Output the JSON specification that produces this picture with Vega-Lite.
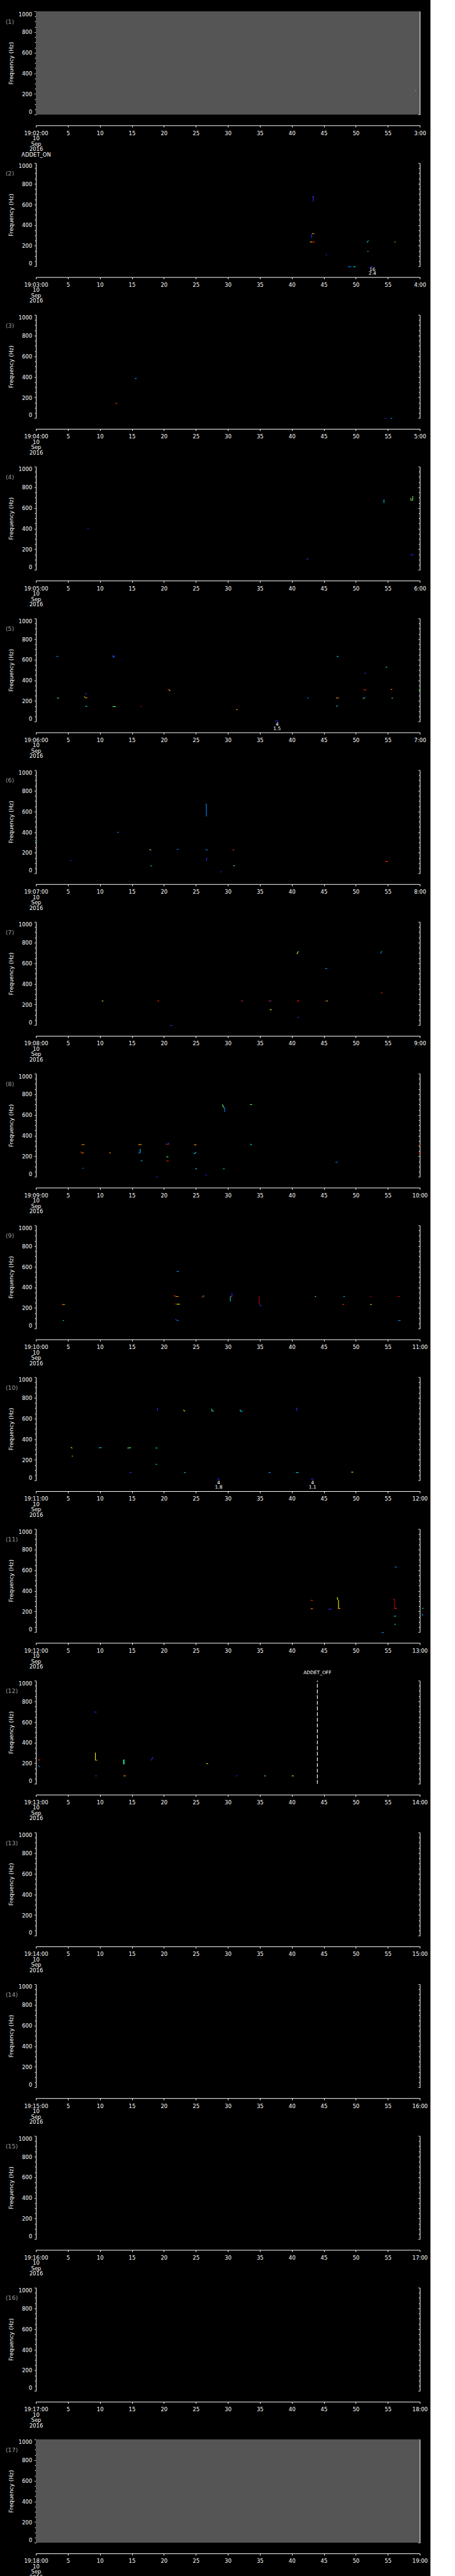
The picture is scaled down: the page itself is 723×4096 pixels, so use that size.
{"$schema":"https://vega.github.io/schema/vega-lite/v6.json","background":"#000000","padding":{"left":8,"top":17,"right":4,"bottom":2},"bounds":"flush","spacing":76.3,
"datasets":{
"one":[{}],
"m":[
{"p":1,"t0":179.3,"t1":179.45,"f0":233,"f1":233,"c":6},
{"p":2,"t0":223.35,"t1":223.35,"f0":628,"f1":675,"c":1},{"p":2,"t0":223.2,"t1":223.45,"f0":675,"f1":675,"c":1},{"p":2,"t0":223.1,"t1":223.1,"f0":274,"f1":317,"c":1},{"p":2,"t0":223.2,"t1":223.4,"f0":317,"f1":317,"c":5},{"p":2,"t0":223.4,"t1":223.6,"f0":317,"f1":317,"c":7},{"p":2,"t0":222.85,"t1":223.15,"f0":236,"f1":236,"c":5},{"p":2,"t0":223.15,"t1":223.6,"f0":236,"f1":236,"c":7},{"p":2,"t0":231.75,"t1":232.0,"f0":231,"f1":250,"c":3},{"p":2,"t0":231.8,"t1":232.0,"f0":146,"f1":146,"c":3},{"p":2,"t0":225.3,"t1":225.5,"f0":111,"f1":111,"c":1},{"p":2,"t0":236.05,"t1":236.2,"f0":236,"f1":236,"c":5},{"p":2,"t0":228.8,"t1":229.3,"f0":-3,"f1":-3,"c":2},{"p":2,"t0":229.6,"t1":230.0,"f0":-3,"f1":-3,"c":3},{"p":2,"t0":232.3,"t1":232.7,"f0":-3,"f1":-3,"c":1},
{"p":3,"t0":255.44,"t1":255.76,"f0":384,"f1":384,"c":2},{"p":3,"t0":252.45,"t1":252.7,"f0":144,"f1":144,"c":7},{"p":3,"t0":252.55,"t1":252.55,"f0":137,"f1":146,"c":7},{"p":3,"t0":294.6,"t1":294.8,"f0":-3,"f1":-3,"c":1},{"p":3,"t0":295.4,"t1":295.7,"f0":-3,"f1":-3,"c":2},
{"p":4,"t0":308.06,"t1":308.24,"f0":401,"f1":401,"c":1},{"p":4,"t0":342.3,"t1":342.6,"f0":106,"f1":106,"c":1},{"p":4,"t0":354.4,"t1":354.4,"f0":647,"f1":681,"c":3},{"p":4,"t0":358.9,"t1":358.9,"f0":672,"f1":713,"c":4},{"p":4,"t0":358.55,"t1":358.9,"f0":675,"f1":675,"c":4},{"p":4,"t0":358.6,"t1":358.6,"f0":682,"f1":695,"c":5},{"p":4,"t0":358.6,"t1":359.0,"f0":140,"f1":153,"c":1},
{"p":5,"t0":363.2,"t1":363.5,"f0":631,"f1":631,"c":2},{"p":5,"t0":363.3,"t1":363.6,"f0":228,"f1":228,"c":4},{"p":5,"t0":367.7,"t1":368.0,"f0":270,"f1":270,"c":1},{"p":5,"t0":367.55,"t1":367.7,"f0":243,"f1":236,"c":5},{"p":5,"t0":367.7,"t1":368.05,"f0":230,"f1":230,"c":6},{"p":5,"t0":367.7,"t1":368.05,"f0":149,"f1":149,"c":3},{"p":5,"t0":371.9,"t1":372.1,"f0":644,"f1":622,"c":1},{"p":5,"t0":372.1,"t1":372.3,"f0":622,"f1":638,"c":2},{"p":5,"t0":372.0,"t1":372.5,"f0":146,"f1":146,"c":4},{"p":5,"t0":376.35,"t1":376.6,"f0":147,"f1":147,"c":8},{"p":5,"t0":380.6,"t1":380.8,"f0":312,"f1":312,"c":7},{"p":5,"t0":380.8,"t1":381.0,"f0":308,"f1":298,"c":5},{"p":5,"t0":391.3,"t1":391.55,"f0":116,"f1":116,"c":6},{"p":5,"t0":397.4,"t1":397.85,"f0":8,"f1":8,"c":1},{"p":5,"t0":402.4,"t1":402.65,"f0":228,"f1":228,"c":2},{"p":5,"t0":407.0,"t1":407.3,"f0":631,"f1":631,"c":3},{"p":5,"t0":406.9,"t1":407.35,"f0":229,"f1":229,"c":6},{"p":5,"t0":406.9,"t1":407.2,"f0":151,"f1":151,"c":3},{"p":5,"t0":411.1,"t1":411.4,"f0":226,"f1":228,"c":4},{"p":5,"t0":411.4,"t1":411.6,"f0":237,"f1":237,"c":1},{"p":5,"t0":411.2,"t1":411.6,"f0":308,"f1":308,"c":7},{"p":5,"t0":411.35,"t1":411.6,"f0":465,"f1":472,"c":1},{"p":5,"t0":414.7,"t1":414.9,"f0":522,"f1":532,"c":3},{"p":5,"t0":415.45,"t1":415.7,"f0":312,"f1":312,"c":6},{"p":5,"t0":415.6,"t1":415.8,"f0":228,"f1":228,"c":4},{"p":5,"t0":419.85,"t1":420.1,"f0":308,"f1":317,"c":4},
{"p":6,"t0":419.9,"t1":420.1,"f0":318,"f1":318,"c":4},{"p":6,"t0":425.35,"t1":425.55,"f0":125,"f1":125,"c":1},{"p":6,"t0":432.7,"t1":432.95,"f0":398,"f1":398,"c":2},{"p":6,"t0":437.75,"t1":437.9,"f0":231,"f1":231,"c":5},{"p":6,"t0":437.9,"t1":438.05,"f0":225,"f1":225,"c":3},{"p":6,"t0":437.9,"t1":438.15,"f0":73,"f1":73,"c":3},{"p":6,"t0":442.05,"t1":442.3,"f0":233,"f1":233,"c":2},{"p":6,"t0":446.65,"t1":446.65,"f0":551,"f1":670,"c":2},{"p":6,"t0":446.5,"t1":446.65,"f0":670,"f1":670,"c":2},{"p":6,"t0":446.5,"t1":446.85,"f0":229,"f1":229,"c":2},{"p":6,"t0":446.7,"t1":446.7,"f0":123,"f1":151,"c":1},{"p":6,"t0":448.85,"t1":449.05,"f0":15,"f1":15,"c":1},{"p":6,"t0":450.75,"t1":451.0,"f0":227,"f1":227,"c":7},{"p":6,"t0":450.85,"t1":451.1,"f0":74,"f1":74,"c":4},{"p":6,"t0":474.6,"t1":475.05,"f0":117,"f1":117,"c":7},
{"p":7,"t0":490.3,"t1":490.55,"f0":234,"f1":234,"c":5},{"p":7,"t0":499.0,"t1":499.3,"f0":234,"f1":234,"c":7},{"p":7,"t0":500.95,"t1":501.3,"f0":-3,"f1":-3,"c":1},{"p":7,"t0":512.05,"t1":512.25,"f0":234,"f1":234,"c":7},{"p":7,"t0":512.25,"t1":512.4,"f0":234,"f1":234,"c":1},{"p":7,"t0":516.4,"t1":516.65,"f0":234,"f1":234,"c":7},{"p":7,"t0":516.65,"t1":516.85,"f0":234,"f1":234,"c":1},{"p":7,"t0":516.55,"t1":516.85,"f0":149,"f1":149,"c":5},{"p":7,"t0":520.8,"t1":520.95,"f0":688,"f1":710,"c":5},{"p":7,"t0":520.95,"t1":521.1,"f0":712,"f1":712,"c":3},{"p":7,"t0":520.8,"t1":521.15,"f0":234,"f1":234,"c":7},{"p":7,"t0":520.9,"t1":521.15,"f0":76,"f1":76,"c":1},{"p":7,"t0":525.2,"t1":525.55,"f0":548,"f1":548,"c":2},{"p":7,"t0":525.2,"t1":525.45,"f0":234,"f1":234,"c":7},{"p":7,"t0":525.45,"t1":525.65,"f0":234,"f1":234,"c":4},{"p":7,"t0":533.9,"t1":534.0,"f0":693,"f1":712,"c":2},{"p":7,"t0":534.0,"t1":534.1,"f0":712,"f1":712,"c":3},{"p":7,"t0":533.9,"t1":534.15,"f0":312,"f1":312,"c":7},
{"p":8,"t0":547.15,"t1":547.6,"f0":313,"f1":313,"c":6},{"p":8,"t0":547.05,"t1":547.05,"f0":236,"f1":246,"c":7},{"p":8,"t0":547.05,"t1":547.3,"f0":233,"f1":233,"c":7},{"p":8,"t0":547.3,"t1":547.45,"f0":233,"f1":233,"c":5},{"p":8,"t0":547.25,"t1":547.45,"f0":84,"f1":84,"c":2},{"p":8,"t0":551.45,"t1":551.7,"f0":233,"f1":233,"c":6},{"p":8,"t0":556.0,"t1":556.55,"f0":313,"f1":313,"c":6},{"p":8,"t0":556.3,"t1":556.3,"f0":233,"f1":270,"c":3},{"p":8,"t0":556.0,"t1":556.3,"f0":233,"f1":233,"c":2},{"p":8,"t0":556.4,"t1":556.65,"f0":156,"f1":156,"c":3},{"p":8,"t0":558.8,"t1":559.0,"f0":0,"f1":0,"c":1},{"p":8,"t0":560.3,"t1":560.6,"f0":317,"f1":317,"c":7},{"p":8,"t0":560.6,"t1":560.85,"f0":317,"f1":317,"c":1},{"p":8,"t0":560.75,"t1":560.75,"f0":313,"f1":331,"c":1},{"p":8,"t0":560.4,"t1":560.7,"f0":194,"f1":194,"c":4},{"p":8,"t0":560.4,"t1":560.75,"f0":155,"f1":155,"c":7},{"p":8,"t0":564.7,"t1":565.1,"f0":311,"f1":311,"c":6},{"p":8,"t0":564.7,"t1":565.05,"f0":223,"f1":238,"c":3},{"p":8,"t0":564.9,"t1":565.2,"f0":78,"f1":78,"c":3},{"p":8,"t0":566.5,"t1":566.75,"f0":19,"f1":19,"c":1},{"p":8,"t0":569.15,"t1":569.35,"f0":702,"f1":670,"c":4},{"p":8,"t0":569.35,"t1":569.5,"f0":670,"f1":670,"c":3},{"p":8,"t0":569.5,"t1":569.5,"f0":629,"f1":670,"c":2},{"p":8,"t0":569.25,"t1":569.5,"f0":78,"f1":78,"c":3},{"p":8,"t0":573.45,"t1":573.8,"f0":700,"f1":700,"c":4},{"p":8,"t0":573.5,"t1":573.75,"f0":320,"f1":307,"c":3},{"p":8,"t0":586.85,"t1":587.15,"f0":142,"f1":142,"c":2},{"p":8,"t0":599.8,"t1":600.1,"f0":305,"f1":305,"c":7},{"p":8,"t0":599.8,"t1":600.2,"f0":233,"f1":233,"c":7},
{"p":9,"t0":604.1,"t1":604.55,"f0":234,"f1":234,"c":6},{"p":9,"t0":604.2,"t1":604.4,"f0":80,"f1":80,"c":3},{"p":9,"t0":621.55,"t1":621.8,"f0":319,"f1":319,"c":7},{"p":9,"t0":621.8,"t1":622.3,"f0":313,"f1":310,"c":6},{"p":9,"t0":621.7,"t1":622.0,"f0":239,"f1":239,"c":8},{"p":9,"t0":622.0,"t1":622.5,"f0":237,"f1":237,"c":5},{"p":9,"t0":621.8,"t1":622.05,"f0":93,"f1":80,"c":1},{"p":9,"t0":622.05,"t1":622.3,"f0":80,"f1":80,"c":2},{"p":9,"t0":622.0,"t1":622.35,"f0":555,"f1":555,"c":2},{"p":9,"t0":625.9,"t1":626.1,"f0":306,"f1":306,"c":7},{"p":9,"t0":626.1,"t1":626.3,"f0":315,"f1":315,"c":4},{"p":9,"t0":630.4,"t1":630.4,"f0":265,"f1":315,"c":3},{"p":9,"t0":630.65,"t1":630.65,"f0":310,"f1":347,"c":1},{"p":9,"t0":630.45,"t1":630.65,"f0":310,"f1":310,"c":7},{"p":9,"t0":634.9,"t1":634.9,"f0":232,"f1":312,"c":8},{"p":9,"t0":635.0,"t1":635.25,"f0":232,"f1":219,"c":1},{"p":9,"t0":643.6,"t1":643.8,"f0":312,"f1":312,"c":4},{"p":9,"t0":647.9,"t1":648.2,"f0":234,"f1":234,"c":7},{"p":9,"t0":648.05,"t1":648.3,"f0":312,"f1":312,"c":3},{"p":9,"t0":652.2,"t1":652.5,"f0":312,"f1":312,"c":8},{"p":9,"t0":652.25,"t1":652.5,"f0":234,"f1":234,"c":5},{"p":9,"t0":656.5,"t1":656.95,"f0":312,"f1":312,"c":8},{"p":9,"t0":656.6,"t1":657.0,"f0":80,"f1":80,"c":2},
{"p":10,"t0":665.45,"t1":665.7,"f0":322,"f1":311,"c":5},{"p":10,"t0":665.6,"t1":665.8,"f0":236,"f1":236,"c":6},{"p":10,"t0":669.85,"t1":670.3,"f0":317,"f1":317,"c":3},{"p":10,"t0":674.3,"t1":674.85,"f0":313,"f1":317,"c":4},{"p":10,"t0":674.65,"t1":674.95,"f0":76,"f1":76,"c":1},{"p":10,"t0":678.7,"t1":679.0,"f0":314,"f1":314,"c":3},{"p":10,"t0":678.7,"t1":678.95,"f0":156,"f1":156,"c":3},{"p":10,"t0":679.0,"t1":679.0,"f0":672,"f1":702,"c":1},{"p":10,"t0":683.05,"t1":683.3,"f0":683,"f1":669,"c":5},{"p":10,"t0":683.15,"t1":683.4,"f0":76,"f1":76,"c":3},{"p":10,"t0":687.5,"t1":687.5,"f0":672,"f1":696,"c":3},{"p":10,"t0":687.5,"t1":687.8,"f0":672,"f1":672,"c":4},{"p":10,"t0":688.35,"t1":688.7,"f0":13,"f1":13,"c":1},{"p":10,"t0":691.95,"t1":691.95,"f0":669,"f1":687,"c":3},{"p":10,"t0":691.95,"t1":692.3,"f0":669,"f1":669,"c":3},{"p":10,"t0":696.35,"t1":696.7,"f0":76,"f1":76,"c":2},{"p":10,"t0":700.65,"t1":700.8,"f0":700,"f1":700,"c":1},{"p":10,"t0":700.8,"t1":700.8,"f0":672,"f1":700,"c":1},{"p":10,"t0":700.65,"t1":701.05,"f0":76,"f1":76,"c":3},{"p":10,"t0":703.0,"t1":703.45,"f0":13,"f1":13,"c":1},{"p":10,"t0":709.3,"t1":709.6,"f0":80,"f1":80,"c":5},
{"p":11,"t0":762.95,"t1":763.3,"f0":309,"f1":309,"c":7},{"p":11,"t0":762.95,"t1":763.3,"f0":227,"f1":227,"c":6},{"p":11,"t0":765.7,"t1":766.2,"f0":223,"f1":223,"c":1},{"p":11,"t0":767.1,"t1":767.2,"f0":339,"f1":311,"c":5},{"p":11,"t0":767.3,"t1":767.3,"f0":229,"f1":311,"c":5},{"p":11,"t0":767.2,"t1":767.6,"f0":229,"f1":229,"c":6},{"p":11,"t0":774.05,"t1":774.4,"f0":-3,"f1":-3,"c":2},{"p":11,"t0":775.85,"t1":776.05,"f0":317,"f1":317,"c":7},{"p":11,"t0":776.05,"t1":776.05,"f0":231,"f1":317,"c":8},{"p":11,"t0":776.05,"t1":776.4,"f0":231,"f1":231,"c":7},{"p":11,"t0":775.95,"t1":776.3,"f0":155,"f1":155,"c":3},{"p":11,"t0":776.0,"t1":776.25,"f0":76,"f1":76,"c":3},{"p":11,"t0":776.1,"t1":776.4,"f0":633,"f1":628,"c":2},{"p":11,"t0":780.35,"t1":780.6,"f0":231,"f1":231,"c":3},{"p":11,"t0":780.35,"t1":780.5,"f0":181,"f1":158,"c":2},
{"p":12,"t0":780.35,"t1":780.7,"f0":233,"f1":233,"c":7},{"p":12,"t0":780.35,"t1":780.6,"f0":179,"f1":164,"c":2},{"p":12,"t0":789.15,"t1":789.5,"f0":696,"f1":696,"c":1},{"p":12,"t0":789.3,"t1":789.3,"f0":229,"f1":304,"c":5},{"p":12,"t0":789.3,"t1":789.6,"f0":229,"f1":229,"c":6},{"p":12,"t0":789.25,"t1":789.55,"f0":78,"f1":78,"c":1},{"p":12,"t0":793.7,"t1":793.7,"f0":190,"f1":237,"c":4},{"p":12,"t0":793.8,"t1":793.8,"f0":190,"f1":237,"c":3},{"p":12,"t0":793.7,"t1":794.05,"f0":78,"f1":78,"c":6},{"p":12,"t0":798.0,"t1":798.35,"f0":227,"f1":259,"c":1},{"p":12,"t0":806.65,"t1":806.9,"f0":196,"f1":196,"c":5},{"p":12,"t0":811.25,"t1":811.5,"f0":78,"f1":78,"c":1},{"p":12,"t0":815.7,"t1":815.95,"f0":78,"f1":78,"c":4},{"p":12,"t0":820.0,"t1":820.3,"f0":78,"f1":78,"c":5}
],
"a":[
{"p":2,"t0":232.6,"f0":-30,"s":"16"},{"p":2,"t0":232.6,"f0":-71,"s":"2.4"},
{"p":5,"t0":397.7,"f0":-28,"s":"4"},{"p":5,"t0":397.7,"f0":-70,"s":"1.5"},
{"p":10,"t0":688.57,"f0":-27,"s":"4"},{"p":10,"t0":688.57,"f0":-69,"s":"1.8"},
{"p":10,"t0":703.24,"f0":-27,"s":"4"},{"p":10,"t0":703.24,"f0":-69,"s":"1.1"},
{"p":12,"t0":824,"f0":1075,"s":"ADDET_OFF"}
],
"e":[{"p":12,"t0":824,"f0":0,"f1":1000}]
},
"vconcat":[
{"width":610,"height":164.3,"resolve":{"axis":{"y":"independent"}},"layer":[
{"data":{"name":"one"},"mark":{"type":"rect","color":"#555555"},"encoding":{"x":{"datum":120},"x2":{"datum":180},"y":{"datum":0,"axis":null},"y2":{"datum":1000}}},
{"data":{"name":"m"},"transform":[{"filter":"datum.p == 1"}],"mark":{"type":"rule","strokeWidth":1.1,"clip":false},"encoding":{"x":{"field":"t0","type":"quantitative","scale":{"domain":[120,180],"nice":false,"zero":false},"axis":{"orient":"bottom","title":null,"labelExpr":"datum.index == 0 ? ['19:02:00', '10', 'Sep', '2016', 'ADDET_ON'] : (datum.index == 1 ? '3:00' : '' + (datum.value % 60))"}},"x2":{"field":"t1"},"y":{"field":"f0","type":"quantitative","scale":{"domain":[0,1000],"nice":false,"zero":false},"axis":{"orient":"left","values":[0,50,100,150,200,250,300,350,400,450,500,550,600,650,700,750,800,850,900,950,1000],"title":"Frequency (Hz)","labelExpr":"datum.value % 200 == 0 ? '' + datum.value : ''","tickDash":{"condition":{"test":"datum.value % 200 != 0","value":[1.9,20]},"value":[1,0]}}},"y2":{"field":"f1"},"color":{"field":"c","type":"ordinal","scale":{"domain":[1,2,3,4,5,6,7,8],"range":["#2d2dff","#0a8cff","#00d2e6","#5aff64","#f0f000","#ff9600","#ff2800","#b40000"]},"legend":null}}},
{"data":{"name":"one"},"mark":{"type":"text","color":"#9c9c9c","fontSize":9.5,"align":"left"},"encoding":{"x":{"datum":115.27},"y":{"datum":897,"axis":null},"text":{"value":"(1)"}}},
{"data":{"name":"one"},"mark":{"type":"point","opacity":0},"encoding":{"y":{"datum":500,"type":"quantitative","axis":{"orient":"right","values":[0,50,100,150,200,250,300,350,400,450,500,550,600,650,700,750,800,850,900,950,1000],"labels":false,"title":null,"tickSize":-2.8,"tickDash":{"condition":{"test":"datum.value % 200 != 0","value":[1.9,20]},"value":[1,0]}}}}}
]},
{"width":610,"height":164.3,"resolve":{"axis":{"y":"independent"}},"layer":[
{"data":{"name":"m"},"transform":[{"filter":"datum.p == 2"}],"mark":{"type":"rule","strokeWidth":1.1,"clip":false},"encoding":{"x":{"field":"t0","type":"quantitative","scale":{"domain":[180,240],"nice":false,"zero":false},"axis":{"orient":"bottom","title":null,"labelExpr":"datum.index == 0 ? ['19:' + (floor(datum.value / 60) < 10 ? '0' : '') + floor(datum.value / 60) + ':00', '10', 'Sep', '2016'] : (datum.index == 1 ? floor(datum.value / 60) + ':00' : '' + (datum.value % 60))"}},"x2":{"field":"t1"},"y":{"field":"f0","type":"quantitative","scale":{"domain":[0,1000],"nice":false,"zero":false},"axis":{"orient":"left","values":[0,50,100,150,200,250,300,350,400,450,500,550,600,650,700,750,800,850,900,950,1000],"title":"Frequency (Hz)","labelExpr":"datum.value % 200 == 0 ? '' + datum.value : ''","tickDash":{"condition":{"test":"datum.value % 200 != 0","value":[1.9,20]},"value":[1,0]}}},"y2":{"field":"f1"},"color":{"field":"c","type":"ordinal","scale":{"domain":[1,2,3,4,5,6,7,8],"range":["#2d2dff","#0a8cff","#00d2e6","#5aff64","#f0f000","#ff9600","#ff2800","#b40000"]},"legend":null}}},
{"data":{"name":"a"},"transform":[{"filter":"datum.p == 2"}],"mark":{"type":"text","color":"#ffffff","fontSize":7.5},"encoding":{"x":{"field":"t0","type":"quantitative"},"y":{"field":"f0","type":"quantitative","axis":null},"text":{"field":"s"}}},
{"data":{"name":"one"},"mark":{"type":"text","color":"#9c9c9c","fontSize":9.5,"align":"left"},"encoding":{"x":{"datum":175.27},"y":{"datum":897,"axis":null},"text":{"value":"(2)"}}},
{"data":{"name":"one"},"mark":{"type":"point","opacity":0},"encoding":{"y":{"datum":500,"type":"quantitative","axis":{"orient":"right","values":[0,50,100,150,200,250,300,350,400,450,500,550,600,650,700,750,800,850,900,950,1000],"labels":false,"title":null,"tickSize":-2.8,"tickDash":{"condition":{"test":"datum.value % 200 != 0","value":[1.9,20]},"value":[1,0]}}}}}
]},
{"width":610,"height":164.3,"resolve":{"axis":{"y":"independent"}},"layer":[
{"data":{"name":"m"},"transform":[{"filter":"datum.p == 3"}],"mark":{"type":"rule","strokeWidth":1.1,"clip":false},"encoding":{"x":{"field":"t0","type":"quantitative","scale":{"domain":[240,300],"nice":false,"zero":false},"axis":{"orient":"bottom","title":null,"labelExpr":"datum.index == 0 ? ['19:' + (floor(datum.value / 60) < 10 ? '0' : '') + floor(datum.value / 60) + ':00', '10', 'Sep', '2016'] : (datum.index == 1 ? floor(datum.value / 60) + ':00' : '' + (datum.value % 60))"}},"x2":{"field":"t1"},"y":{"field":"f0","type":"quantitative","scale":{"domain":[0,1000],"nice":false,"zero":false},"axis":{"orient":"left","values":[0,50,100,150,200,250,300,350,400,450,500,550,600,650,700,750,800,850,900,950,1000],"title":"Frequency (Hz)","labelExpr":"datum.value % 200 == 0 ? '' + datum.value : ''","tickDash":{"condition":{"test":"datum.value % 200 != 0","value":[1.9,20]},"value":[1,0]}}},"y2":{"field":"f1"},"color":{"field":"c","type":"ordinal","scale":{"domain":[1,2,3,4,5,6,7,8],"range":["#2d2dff","#0a8cff","#00d2e6","#5aff64","#f0f000","#ff9600","#ff2800","#b40000"]},"legend":null}}},
{"data":{"name":"one"},"mark":{"type":"text","color":"#9c9c9c","fontSize":9.5,"align":"left"},"encoding":{"x":{"datum":235.27},"y":{"datum":897,"axis":null},"text":{"value":"(3)"}}},
{"data":{"name":"one"},"mark":{"type":"point","opacity":0},"encoding":{"y":{"datum":500,"type":"quantitative","axis":{"orient":"right","values":[0,50,100,150,200,250,300,350,400,450,500,550,600,650,700,750,800,850,900,950,1000],"labels":false,"title":null,"tickSize":-2.8,"tickDash":{"condition":{"test":"datum.value % 200 != 0","value":[1.9,20]},"value":[1,0]}}}}}
]},
{"width":610,"height":164.3,"resolve":{"axis":{"y":"independent"}},"layer":[
{"data":{"name":"m"},"transform":[{"filter":"datum.p == 4"}],"mark":{"type":"rule","strokeWidth":1.1,"clip":false},"encoding":{"x":{"field":"t0","type":"quantitative","scale":{"domain":[300,360],"nice":false,"zero":false},"axis":{"orient":"bottom","title":null,"labelExpr":"datum.index == 0 ? ['19:' + (floor(datum.value / 60) < 10 ? '0' : '') + floor(datum.value / 60) + ':00', '10', 'Sep', '2016'] : (datum.index == 1 ? floor(datum.value / 60) + ':00' : '' + (datum.value % 60))"}},"x2":{"field":"t1"},"y":{"field":"f0","type":"quantitative","scale":{"domain":[0,1000],"nice":false,"zero":false},"axis":{"orient":"left","values":[0,50,100,150,200,250,300,350,400,450,500,550,600,650,700,750,800,850,900,950,1000],"title":"Frequency (Hz)","labelExpr":"datum.value % 200 == 0 ? '' + datum.value : ''","tickDash":{"condition":{"test":"datum.value % 200 != 0","value":[1.9,20]},"value":[1,0]}}},"y2":{"field":"f1"},"color":{"field":"c","type":"ordinal","scale":{"domain":[1,2,3,4,5,6,7,8],"range":["#2d2dff","#0a8cff","#00d2e6","#5aff64","#f0f000","#ff9600","#ff2800","#b40000"]},"legend":null}}},
{"data":{"name":"one"},"mark":{"type":"text","color":"#9c9c9c","fontSize":9.5,"align":"left"},"encoding":{"x":{"datum":295.27},"y":{"datum":897,"axis":null},"text":{"value":"(4)"}}},
{"data":{"name":"one"},"mark":{"type":"point","opacity":0},"encoding":{"y":{"datum":500,"type":"quantitative","axis":{"orient":"right","values":[0,50,100,150,200,250,300,350,400,450,500,550,600,650,700,750,800,850,900,950,1000],"labels":false,"title":null,"tickSize":-2.8,"tickDash":{"condition":{"test":"datum.value % 200 != 0","value":[1.9,20]},"value":[1,0]}}}}}
]},
{"width":610,"height":164.3,"resolve":{"axis":{"y":"independent"}},"layer":[
{"data":{"name":"m"},"transform":[{"filter":"datum.p == 5"}],"mark":{"type":"rule","strokeWidth":1.1,"clip":false},"encoding":{"x":{"field":"t0","type":"quantitative","scale":{"domain":[360,420],"nice":false,"zero":false},"axis":{"orient":"bottom","title":null,"labelExpr":"datum.index == 0 ? ['19:' + (floor(datum.value / 60) < 10 ? '0' : '') + floor(datum.value / 60) + ':00', '10', 'Sep', '2016'] : (datum.index == 1 ? floor(datum.value / 60) + ':00' : '' + (datum.value % 60))"}},"x2":{"field":"t1"},"y":{"field":"f0","type":"quantitative","scale":{"domain":[0,1000],"nice":false,"zero":false},"axis":{"orient":"left","values":[0,50,100,150,200,250,300,350,400,450,500,550,600,650,700,750,800,850,900,950,1000],"title":"Frequency (Hz)","labelExpr":"datum.value % 200 == 0 ? '' + datum.value : ''","tickDash":{"condition":{"test":"datum.value % 200 != 0","value":[1.9,20]},"value":[1,0]}}},"y2":{"field":"f1"},"color":{"field":"c","type":"ordinal","scale":{"domain":[1,2,3,4,5,6,7,8],"range":["#2d2dff","#0a8cff","#00d2e6","#5aff64","#f0f000","#ff9600","#ff2800","#b40000"]},"legend":null}}},
{"data":{"name":"a"},"transform":[{"filter":"datum.p == 5"}],"mark":{"type":"text","color":"#ffffff","fontSize":7.5},"encoding":{"x":{"field":"t0","type":"quantitative"},"y":{"field":"f0","type":"quantitative","axis":null},"text":{"field":"s"}}},
{"data":{"name":"one"},"mark":{"type":"text","color":"#9c9c9c","fontSize":9.5,"align":"left"},"encoding":{"x":{"datum":355.27},"y":{"datum":897,"axis":null},"text":{"value":"(5)"}}},
{"data":{"name":"one"},"mark":{"type":"point","opacity":0},"encoding":{"y":{"datum":500,"type":"quantitative","axis":{"orient":"right","values":[0,50,100,150,200,250,300,350,400,450,500,550,600,650,700,750,800,850,900,950,1000],"labels":false,"title":null,"tickSize":-2.8,"tickDash":{"condition":{"test":"datum.value % 200 != 0","value":[1.9,20]},"value":[1,0]}}}}}
]},
{"width":610,"height":164.3,"resolve":{"axis":{"y":"independent"}},"layer":[
{"data":{"name":"m"},"transform":[{"filter":"datum.p == 6"}],"mark":{"type":"rule","strokeWidth":1.1,"clip":false},"encoding":{"x":{"field":"t0","type":"quantitative","scale":{"domain":[420,480],"nice":false,"zero":false},"axis":{"orient":"bottom","title":null,"labelExpr":"datum.index == 0 ? ['19:' + (floor(datum.value / 60) < 10 ? '0' : '') + floor(datum.value / 60) + ':00', '10', 'Sep', '2016'] : (datum.index == 1 ? floor(datum.value / 60) + ':00' : '' + (datum.value % 60))"}},"x2":{"field":"t1"},"y":{"field":"f0","type":"quantitative","scale":{"domain":[0,1000],"nice":false,"zero":false},"axis":{"orient":"left","values":[0,50,100,150,200,250,300,350,400,450,500,550,600,650,700,750,800,850,900,950,1000],"title":"Frequency (Hz)","labelExpr":"datum.value % 200 == 0 ? '' + datum.value : ''","tickDash":{"condition":{"test":"datum.value % 200 != 0","value":[1.9,20]},"value":[1,0]}}},"y2":{"field":"f1"},"color":{"field":"c","type":"ordinal","scale":{"domain":[1,2,3,4,5,6,7,8],"range":["#2d2dff","#0a8cff","#00d2e6","#5aff64","#f0f000","#ff9600","#ff2800","#b40000"]},"legend":null}}},
{"data":{"name":"one"},"mark":{"type":"text","color":"#9c9c9c","fontSize":9.5,"align":"left"},"encoding":{"x":{"datum":415.27},"y":{"datum":897,"axis":null},"text":{"value":"(6)"}}},
{"data":{"name":"one"},"mark":{"type":"point","opacity":0},"encoding":{"y":{"datum":500,"type":"quantitative","axis":{"orient":"right","values":[0,50,100,150,200,250,300,350,400,450,500,550,600,650,700,750,800,850,900,950,1000],"labels":false,"title":null,"tickSize":-2.8,"tickDash":{"condition":{"test":"datum.value % 200 != 0","value":[1.9,20]},"value":[1,0]}}}}}
]},
{"width":610,"height":164.3,"resolve":{"axis":{"y":"independent"}},"layer":[
{"data":{"name":"m"},"transform":[{"filter":"datum.p == 7"}],"mark":{"type":"rule","strokeWidth":1.1,"clip":false},"encoding":{"x":{"field":"t0","type":"quantitative","scale":{"domain":[480,540],"nice":false,"zero":false},"axis":{"orient":"bottom","title":null,"labelExpr":"datum.index == 0 ? ['19:' + (floor(datum.value / 60) < 10 ? '0' : '') + floor(datum.value / 60) + ':00', '10', 'Sep', '2016'] : (datum.index == 1 ? floor(datum.value / 60) + ':00' : '' + (datum.value % 60))"}},"x2":{"field":"t1"},"y":{"field":"f0","type":"quantitative","scale":{"domain":[0,1000],"nice":false,"zero":false},"axis":{"orient":"left","values":[0,50,100,150,200,250,300,350,400,450,500,550,600,650,700,750,800,850,900,950,1000],"title":"Frequency (Hz)","labelExpr":"datum.value % 200 == 0 ? '' + datum.value : ''","tickDash":{"condition":{"test":"datum.value % 200 != 0","value":[1.9,20]},"value":[1,0]}}},"y2":{"field":"f1"},"color":{"field":"c","type":"ordinal","scale":{"domain":[1,2,3,4,5,6,7,8],"range":["#2d2dff","#0a8cff","#00d2e6","#5aff64","#f0f000","#ff9600","#ff2800","#b40000"]},"legend":null}}},
{"data":{"name":"one"},"mark":{"type":"text","color":"#9c9c9c","fontSize":9.5,"align":"left"},"encoding":{"x":{"datum":475.27},"y":{"datum":897,"axis":null},"text":{"value":"(7)"}}},
{"data":{"name":"one"},"mark":{"type":"point","opacity":0},"encoding":{"y":{"datum":500,"type":"quantitative","axis":{"orient":"right","values":[0,50,100,150,200,250,300,350,400,450,500,550,600,650,700,750,800,850,900,950,1000],"labels":false,"title":null,"tickSize":-2.8,"tickDash":{"condition":{"test":"datum.value % 200 != 0","value":[1.9,20]},"value":[1,0]}}}}}
]},
{"width":610,"height":164.3,"resolve":{"axis":{"y":"independent"}},"layer":[
{"data":{"name":"m"},"transform":[{"filter":"datum.p == 8"}],"mark":{"type":"rule","strokeWidth":1.1,"clip":false},"encoding":{"x":{"field":"t0","type":"quantitative","scale":{"domain":[540,600],"nice":false,"zero":false},"axis":{"orient":"bottom","title":null,"labelExpr":"datum.index == 0 ? ['19:' + (floor(datum.value / 60) < 10 ? '0' : '') + floor(datum.value / 60) + ':00', '10', 'Sep', '2016'] : (datum.index == 1 ? floor(datum.value / 60) + ':00' : '' + (datum.value % 60))"}},"x2":{"field":"t1"},"y":{"field":"f0","type":"quantitative","scale":{"domain":[0,1000],"nice":false,"zero":false},"axis":{"orient":"left","values":[0,50,100,150,200,250,300,350,400,450,500,550,600,650,700,750,800,850,900,950,1000],"title":"Frequency (Hz)","labelExpr":"datum.value % 200 == 0 ? '' + datum.value : ''","tickDash":{"condition":{"test":"datum.value % 200 != 0","value":[1.9,20]},"value":[1,0]}}},"y2":{"field":"f1"},"color":{"field":"c","type":"ordinal","scale":{"domain":[1,2,3,4,5,6,7,8],"range":["#2d2dff","#0a8cff","#00d2e6","#5aff64","#f0f000","#ff9600","#ff2800","#b40000"]},"legend":null}}},
{"data":{"name":"one"},"mark":{"type":"text","color":"#9c9c9c","fontSize":9.5,"align":"left"},"encoding":{"x":{"datum":535.27},"y":{"datum":897,"axis":null},"text":{"value":"(8)"}}},
{"data":{"name":"one"},"mark":{"type":"point","opacity":0},"encoding":{"y":{"datum":500,"type":"quantitative","axis":{"orient":"right","values":[0,50,100,150,200,250,300,350,400,450,500,550,600,650,700,750,800,850,900,950,1000],"labels":false,"title":null,"tickSize":-2.8,"tickDash":{"condition":{"test":"datum.value % 200 != 0","value":[1.9,20]},"value":[1,0]}}}}}
]},
{"width":610,"height":164.3,"resolve":{"axis":{"y":"independent"}},"layer":[
{"data":{"name":"m"},"transform":[{"filter":"datum.p == 9"}],"mark":{"type":"rule","strokeWidth":1.1,"clip":false},"encoding":{"x":{"field":"t0","type":"quantitative","scale":{"domain":[600,660],"nice":false,"zero":false},"axis":{"orient":"bottom","title":null,"labelExpr":"datum.index == 0 ? ['19:' + (floor(datum.value / 60) < 10 ? '0' : '') + floor(datum.value / 60) + ':00', '10', 'Sep', '2016'] : (datum.index == 1 ? floor(datum.value / 60) + ':00' : '' + (datum.value % 60))"}},"x2":{"field":"t1"},"y":{"field":"f0","type":"quantitative","scale":{"domain":[0,1000],"nice":false,"zero":false},"axis":{"orient":"left","values":[0,50,100,150,200,250,300,350,400,450,500,550,600,650,700,750,800,850,900,950,1000],"title":"Frequency (Hz)","labelExpr":"datum.value % 200 == 0 ? '' + datum.value : ''","tickDash":{"condition":{"test":"datum.value % 200 != 0","value":[1.9,20]},"value":[1,0]}}},"y2":{"field":"f1"},"color":{"field":"c","type":"ordinal","scale":{"domain":[1,2,3,4,5,6,7,8],"range":["#2d2dff","#0a8cff","#00d2e6","#5aff64","#f0f000","#ff9600","#ff2800","#b40000"]},"legend":null}}},
{"data":{"name":"one"},"mark":{"type":"text","color":"#9c9c9c","fontSize":9.5,"align":"left"},"encoding":{"x":{"datum":595.27},"y":{"datum":897,"axis":null},"text":{"value":"(9)"}}},
{"data":{"name":"one"},"mark":{"type":"point","opacity":0},"encoding":{"y":{"datum":500,"type":"quantitative","axis":{"orient":"right","values":[0,50,100,150,200,250,300,350,400,450,500,550,600,650,700,750,800,850,900,950,1000],"labels":false,"title":null,"tickSize":-2.8,"tickDash":{"condition":{"test":"datum.value % 200 != 0","value":[1.9,20]},"value":[1,0]}}}}}
]},
{"width":610,"height":164.3,"resolve":{"axis":{"y":"independent"}},"layer":[
{"data":{"name":"m"},"transform":[{"filter":"datum.p == 10"}],"mark":{"type":"rule","strokeWidth":1.1,"clip":false},"encoding":{"x":{"field":"t0","type":"quantitative","scale":{"domain":[660,720],"nice":false,"zero":false},"axis":{"orient":"bottom","title":null,"labelExpr":"datum.index == 0 ? ['19:' + (floor(datum.value / 60) < 10 ? '0' : '') + floor(datum.value / 60) + ':00', '10', 'Sep', '2016'] : (datum.index == 1 ? floor(datum.value / 60) + ':00' : '' + (datum.value % 60))"}},"x2":{"field":"t1"},"y":{"field":"f0","type":"quantitative","scale":{"domain":[0,1000],"nice":false,"zero":false},"axis":{"orient":"left","values":[0,50,100,150,200,250,300,350,400,450,500,550,600,650,700,750,800,850,900,950,1000],"title":"Frequency (Hz)","labelExpr":"datum.value % 200 == 0 ? '' + datum.value : ''","tickDash":{"condition":{"test":"datum.value % 200 != 0","value":[1.9,20]},"value":[1,0]}}},"y2":{"field":"f1"},"color":{"field":"c","type":"ordinal","scale":{"domain":[1,2,3,4,5,6,7,8],"range":["#2d2dff","#0a8cff","#00d2e6","#5aff64","#f0f000","#ff9600","#ff2800","#b40000"]},"legend":null}}},
{"data":{"name":"a"},"transform":[{"filter":"datum.p == 10"}],"mark":{"type":"text","color":"#ffffff","fontSize":7.5},"encoding":{"x":{"field":"t0","type":"quantitative"},"y":{"field":"f0","type":"quantitative","axis":null},"text":{"field":"s"}}},
{"data":{"name":"one"},"mark":{"type":"text","color":"#9c9c9c","fontSize":9.5,"align":"left"},"encoding":{"x":{"datum":655.27},"y":{"datum":897,"axis":null},"text":{"value":"(10)"}}},
{"data":{"name":"one"},"mark":{"type":"point","opacity":0},"encoding":{"y":{"datum":500,"type":"quantitative","axis":{"orient":"right","values":[0,50,100,150,200,250,300,350,400,450,500,550,600,650,700,750,800,850,900,950,1000],"labels":false,"title":null,"tickSize":-2.8,"tickDash":{"condition":{"test":"datum.value % 200 != 0","value":[1.9,20]},"value":[1,0]}}}}}
]},
{"width":610,"height":164.3,"resolve":{"axis":{"y":"independent"}},"layer":[
{"data":{"name":"m"},"transform":[{"filter":"datum.p == 11"}],"mark":{"type":"rule","strokeWidth":1.1,"clip":false},"encoding":{"x":{"field":"t0","type":"quantitative","scale":{"domain":[720,780],"nice":false,"zero":false},"axis":{"orient":"bottom","title":null,"labelExpr":"datum.index == 0 ? ['19:' + (floor(datum.value / 60) < 10 ? '0' : '') + floor(datum.value / 60) + ':00', '10', 'Sep', '2016'] : (datum.index == 1 ? floor(datum.value / 60) + ':00' : '' + (datum.value % 60))"}},"x2":{"field":"t1"},"y":{"field":"f0","type":"quantitative","scale":{"domain":[0,1000],"nice":false,"zero":false},"axis":{"orient":"left","values":[0,50,100,150,200,250,300,350,400,450,500,550,600,650,700,750,800,850,900,950,1000],"title":"Frequency (Hz)","labelExpr":"datum.value % 200 == 0 ? '' + datum.value : ''","tickDash":{"condition":{"test":"datum.value % 200 != 0","value":[1.9,20]},"value":[1,0]}}},"y2":{"field":"f1"},"color":{"field":"c","type":"ordinal","scale":{"domain":[1,2,3,4,5,6,7,8],"range":["#2d2dff","#0a8cff","#00d2e6","#5aff64","#f0f000","#ff9600","#ff2800","#b40000"]},"legend":null}}},
{"data":{"name":"one"},"mark":{"type":"text","color":"#9c9c9c","fontSize":9.5,"align":"left"},"encoding":{"x":{"datum":715.27},"y":{"datum":897,"axis":null},"text":{"value":"(11)"}}},
{"data":{"name":"one"},"mark":{"type":"point","opacity":0},"encoding":{"y":{"datum":500,"type":"quantitative","axis":{"orient":"right","values":[0,50,100,150,200,250,300,350,400,450,500,550,600,650,700,750,800,850,900,950,1000],"labels":false,"title":null,"tickSize":-2.8,"tickDash":{"condition":{"test":"datum.value % 200 != 0","value":[1.9,20]},"value":[1,0]}}}}}
]},
{"width":610,"height":164.3,"resolve":{"axis":{"y":"independent"}},"layer":[
{"data":{"name":"m"},"transform":[{"filter":"datum.p == 12"}],"mark":{"type":"rule","strokeWidth":1.1,"clip":false},"encoding":{"x":{"field":"t0","type":"quantitative","scale":{"domain":[780,840],"nice":false,"zero":false},"axis":{"orient":"bottom","title":null,"labelExpr":"datum.index == 0 ? ['19:' + (floor(datum.value / 60) < 10 ? '0' : '') + floor(datum.value / 60) + ':00', '10', 'Sep', '2016'] : (datum.index == 1 ? floor(datum.value / 60) + ':00' : '' + (datum.value % 60))"}},"x2":{"field":"t1"},"y":{"field":"f0","type":"quantitative","scale":{"domain":[0,1000],"nice":false,"zero":false},"axis":{"orient":"left","values":[0,50,100,150,200,250,300,350,400,450,500,550,600,650,700,750,800,850,900,950,1000],"title":"Frequency (Hz)","labelExpr":"datum.value % 200 == 0 ? '' + datum.value : ''","tickDash":{"condition":{"test":"datum.value % 200 != 0","value":[1.9,20]},"value":[1,0]}}},"y2":{"field":"f1"},"color":{"field":"c","type":"ordinal","scale":{"domain":[1,2,3,4,5,6,7,8],"range":["#2d2dff","#0a8cff","#00d2e6","#5aff64","#f0f000","#ff9600","#ff2800","#b40000"]},"legend":null}}},
{"data":{"name":"e"},"mark":{"type":"rule","color":"#ffffff","strokeWidth":1.2,"strokeDash":[6,3]},"encoding":{"x":{"field":"t0","type":"quantitative"},"y":{"field":"f0","type":"quantitative","axis":null},"y2":{"field":"f1"}}},
{"data":{"name":"a"},"transform":[{"filter":"datum.p == 12"}],"mark":{"type":"text","color":"#ffffff","fontSize":7.5},"encoding":{"x":{"field":"t0","type":"quantitative"},"y":{"field":"f0","type":"quantitative","axis":null},"text":{"field":"s"}}},
{"data":{"name":"one"},"mark":{"type":"text","color":"#9c9c9c","fontSize":9.5,"align":"left"},"encoding":{"x":{"datum":775.27},"y":{"datum":897,"axis":null},"text":{"value":"(12)"}}},
{"data":{"name":"one"},"mark":{"type":"point","opacity":0},"encoding":{"y":{"datum":500,"type":"quantitative","axis":{"orient":"right","values":[0,50,100,150,200,250,300,350,400,450,500,550,600,650,700,750,800,850,900,950,1000],"labels":false,"title":null,"tickSize":-2.8,"tickDash":{"condition":{"test":"datum.value % 200 != 0","value":[1.9,20]},"value":[1,0]}}}}}
]},
{"width":610,"height":164.3,"resolve":{"axis":{"y":"independent"}},"layer":[
{"data":{"name":"m"},"transform":[{"filter":"datum.p == 13"}],"mark":{"type":"rule","strokeWidth":1.1,"clip":false},"encoding":{"x":{"field":"t0","type":"quantitative","scale":{"domain":[840,900],"nice":false,"zero":false},"axis":{"orient":"bottom","title":null,"labelExpr":"datum.index == 0 ? ['19:' + (floor(datum.value / 60) < 10 ? '0' : '') + floor(datum.value / 60) + ':00', '10', 'Sep', '2016'] : (datum.index == 1 ? floor(datum.value / 60) + ':00' : '' + (datum.value % 60))"}},"x2":{"field":"t1"},"y":{"field":"f0","type":"quantitative","scale":{"domain":[0,1000],"nice":false,"zero":false},"axis":{"orient":"left","values":[0,50,100,150,200,250,300,350,400,450,500,550,600,650,700,750,800,850,900,950,1000],"title":"Frequency (Hz)","labelExpr":"datum.value % 200 == 0 ? '' + datum.value : ''","tickDash":{"condition":{"test":"datum.value % 200 != 0","value":[1.9,20]},"value":[1,0]}}},"y2":{"field":"f1"},"color":{"field":"c","type":"ordinal","scale":{"domain":[1,2,3,4,5,6,7,8],"range":["#2d2dff","#0a8cff","#00d2e6","#5aff64","#f0f000","#ff9600","#ff2800","#b40000"]},"legend":null}}},
{"data":{"name":"one"},"mark":{"type":"text","color":"#9c9c9c","fontSize":9.5,"align":"left"},"encoding":{"x":{"datum":835.27},"y":{"datum":897,"axis":null},"text":{"value":"(13)"}}},
{"data":{"name":"one"},"mark":{"type":"point","opacity":0},"encoding":{"y":{"datum":500,"type":"quantitative","axis":{"orient":"right","values":[0,50,100,150,200,250,300,350,400,450,500,550,600,650,700,750,800,850,900,950,1000],"labels":false,"title":null,"tickSize":-2.8,"tickDash":{"condition":{"test":"datum.value % 200 != 0","value":[1.9,20]},"value":[1,0]}}}}}
]},
{"width":610,"height":164.3,"resolve":{"axis":{"y":"independent"}},"layer":[
{"data":{"name":"m"},"transform":[{"filter":"datum.p == 14"}],"mark":{"type":"rule","strokeWidth":1.1,"clip":false},"encoding":{"x":{"field":"t0","type":"quantitative","scale":{"domain":[900,960],"nice":false,"zero":false},"axis":{"orient":"bottom","title":null,"labelExpr":"datum.index == 0 ? ['19:' + (floor(datum.value / 60) < 10 ? '0' : '') + floor(datum.value / 60) + ':00', '10', 'Sep', '2016'] : (datum.index == 1 ? floor(datum.value / 60) + ':00' : '' + (datum.value % 60))"}},"x2":{"field":"t1"},"y":{"field":"f0","type":"quantitative","scale":{"domain":[0,1000],"nice":false,"zero":false},"axis":{"orient":"left","values":[0,50,100,150,200,250,300,350,400,450,500,550,600,650,700,750,800,850,900,950,1000],"title":"Frequency (Hz)","labelExpr":"datum.value % 200 == 0 ? '' + datum.value : ''","tickDash":{"condition":{"test":"datum.value % 200 != 0","value":[1.9,20]},"value":[1,0]}}},"y2":{"field":"f1"},"color":{"field":"c","type":"ordinal","scale":{"domain":[1,2,3,4,5,6,7,8],"range":["#2d2dff","#0a8cff","#00d2e6","#5aff64","#f0f000","#ff9600","#ff2800","#b40000"]},"legend":null}}},
{"data":{"name":"one"},"mark":{"type":"text","color":"#9c9c9c","fontSize":9.5,"align":"left"},"encoding":{"x":{"datum":895.27},"y":{"datum":897,"axis":null},"text":{"value":"(14)"}}},
{"data":{"name":"one"},"mark":{"type":"point","opacity":0},"encoding":{"y":{"datum":500,"type":"quantitative","axis":{"orient":"right","values":[0,50,100,150,200,250,300,350,400,450,500,550,600,650,700,750,800,850,900,950,1000],"labels":false,"title":null,"tickSize":-2.8,"tickDash":{"condition":{"test":"datum.value % 200 != 0","value":[1.9,20]},"value":[1,0]}}}}}
]},
{"width":610,"height":164.3,"resolve":{"axis":{"y":"independent"}},"layer":[
{"data":{"name":"m"},"transform":[{"filter":"datum.p == 15"}],"mark":{"type":"rule","strokeWidth":1.1,"clip":false},"encoding":{"x":{"field":"t0","type":"quantitative","scale":{"domain":[960,1020],"nice":false,"zero":false},"axis":{"orient":"bottom","title":null,"labelExpr":"datum.index == 0 ? ['19:' + (floor(datum.value / 60) < 10 ? '0' : '') + floor(datum.value / 60) + ':00', '10', 'Sep', '2016'] : (datum.index == 1 ? floor(datum.value / 60) + ':00' : '' + (datum.value % 60))"}},"x2":{"field":"t1"},"y":{"field":"f0","type":"quantitative","scale":{"domain":[0,1000],"nice":false,"zero":false},"axis":{"orient":"left","values":[0,50,100,150,200,250,300,350,400,450,500,550,600,650,700,750,800,850,900,950,1000],"title":"Frequency (Hz)","labelExpr":"datum.value % 200 == 0 ? '' + datum.value : ''","tickDash":{"condition":{"test":"datum.value % 200 != 0","value":[1.9,20]},"value":[1,0]}}},"y2":{"field":"f1"},"color":{"field":"c","type":"ordinal","scale":{"domain":[1,2,3,4,5,6,7,8],"range":["#2d2dff","#0a8cff","#00d2e6","#5aff64","#f0f000","#ff9600","#ff2800","#b40000"]},"legend":null}}},
{"data":{"name":"one"},"mark":{"type":"text","color":"#9c9c9c","fontSize":9.5,"align":"left"},"encoding":{"x":{"datum":955.27},"y":{"datum":897,"axis":null},"text":{"value":"(15)"}}},
{"data":{"name":"one"},"mark":{"type":"point","opacity":0},"encoding":{"y":{"datum":500,"type":"quantitative","axis":{"orient":"right","values":[0,50,100,150,200,250,300,350,400,450,500,550,600,650,700,750,800,850,900,950,1000],"labels":false,"title":null,"tickSize":-2.8,"tickDash":{"condition":{"test":"datum.value % 200 != 0","value":[1.9,20]},"value":[1,0]}}}}}
]},
{"width":610,"height":164.3,"resolve":{"axis":{"y":"independent"}},"layer":[
{"data":{"name":"m"},"transform":[{"filter":"datum.p == 16"}],"mark":{"type":"rule","strokeWidth":1.1,"clip":false},"encoding":{"x":{"field":"t0","type":"quantitative","scale":{"domain":[1020,1080],"nice":false,"zero":false},"axis":{"orient":"bottom","title":null,"labelExpr":"datum.index == 0 ? ['19:' + (floor(datum.value / 60) < 10 ? '0' : '') + floor(datum.value / 60) + ':00', '10', 'Sep', '2016'] : (datum.index == 1 ? floor(datum.value / 60) + ':00' : '' + (datum.value % 60))"}},"x2":{"field":"t1"},"y":{"field":"f0","type":"quantitative","scale":{"domain":[0,1000],"nice":false,"zero":false},"axis":{"orient":"left","values":[0,50,100,150,200,250,300,350,400,450,500,550,600,650,700,750,800,850,900,950,1000],"title":"Frequency (Hz)","labelExpr":"datum.value % 200 == 0 ? '' + datum.value : ''","tickDash":{"condition":{"test":"datum.value % 200 != 0","value":[1.9,20]},"value":[1,0]}}},"y2":{"field":"f1"},"color":{"field":"c","type":"ordinal","scale":{"domain":[1,2,3,4,5,6,7,8],"range":["#2d2dff","#0a8cff","#00d2e6","#5aff64","#f0f000","#ff9600","#ff2800","#b40000"]},"legend":null}}},
{"data":{"name":"one"},"mark":{"type":"text","color":"#9c9c9c","fontSize":9.5,"align":"left"},"encoding":{"x":{"datum":1015.27},"y":{"datum":897,"axis":null},"text":{"value":"(16)"}}},
{"data":{"name":"one"},"mark":{"type":"point","opacity":0},"encoding":{"y":{"datum":500,"type":"quantitative","axis":{"orient":"right","values":[0,50,100,150,200,250,300,350,400,450,500,550,600,650,700,750,800,850,900,950,1000],"labels":false,"title":null,"tickSize":-2.8,"tickDash":{"condition":{"test":"datum.value % 200 != 0","value":[1.9,20]},"value":[1,0]}}}}}
]},
{"width":610,"height":164.3,"resolve":{"axis":{"y":"independent"}},"layer":[
{"data":{"name":"one"},"mark":{"type":"rect","color":"#555555"},"encoding":{"x":{"datum":1080},"x2":{"datum":1140},"y":{"datum":0,"axis":null},"y2":{"datum":1000}}},
{"data":{"name":"m"},"transform":[{"filter":"datum.p == 17"}],"mark":{"type":"rule","strokeWidth":1.1,"clip":false},"encoding":{"x":{"field":"t0","type":"quantitative","scale":{"domain":[1080,1140],"nice":false,"zero":false},"axis":{"orient":"bottom","title":null,"labelExpr":"datum.index == 0 ? ['19:' + (floor(datum.value / 60) < 10 ? '0' : '') + floor(datum.value / 60) + ':00', '10', 'Sep', '2016'] : (datum.index == 1 ? floor(datum.value / 60) + ':00' : '' + (datum.value % 60))"}},"x2":{"field":"t1"},"y":{"field":"f0","type":"quantitative","scale":{"domain":[0,1000],"nice":false,"zero":false},"axis":{"orient":"left","values":[0,50,100,150,200,250,300,350,400,450,500,550,600,650,700,750,800,850,900,950,1000],"title":"Frequency (Hz)","labelExpr":"datum.value % 200 == 0 ? '' + datum.value : ''","tickDash":{"condition":{"test":"datum.value % 200 != 0","value":[1.9,20]},"value":[1,0]}}},"y2":{"field":"f1"},"color":{"field":"c","type":"ordinal","scale":{"domain":[1,2,3,4,5,6,7,8],"range":["#2d2dff","#0a8cff","#00d2e6","#5aff64","#f0f000","#ff9600","#ff2800","#b40000"]},"legend":null}}},
{"data":{"name":"one"},"mark":{"type":"text","color":"#9c9c9c","fontSize":9.5,"align":"left"},"encoding":{"x":{"datum":1075.27},"y":{"datum":897,"axis":null},"text":{"value":"(17)"}}},
{"data":{"name":"one"},"mark":{"type":"point","opacity":0},"encoding":{"y":{"datum":500,"type":"quantitative","axis":{"orient":"right","values":[0,50,100,150,200,250,300,350,400,450,500,550,600,650,700,750,800,850,900,950,1000],"labels":false,"title":null,"tickSize":-2.8,"tickDash":{"condition":{"test":"datum.value % 200 != 0","value":[1.9,20]},"value":[1,0]}}}}}
]}
],
"config":{"view":{"stroke":null},"font":"DejaVu Sans",
"axis":{"domainColor":"#ffffff","tickColor":"#ffffff","labelColor":"#ffffff","titleColor":"#ffffff","labelFont":"DejaVu Sans","titleFont":"DejaVu Sans","labelFontSize":8.5,"titleFontSize":9,"titleFontWeight":"normal","grid":false,"domainWidth":1,"tickWidth":1,"tickSize":2.8,"labelOverlap":false},
"axisX":{"tickCount":12,"offset":17,"labelPadding":5,"labelLineHeight":8.5,"labelFlush":false,"labelBound":false},
"axisY":{"labelFlush":true,"labelPadding":3.5,"titlePadding":7}}
}
